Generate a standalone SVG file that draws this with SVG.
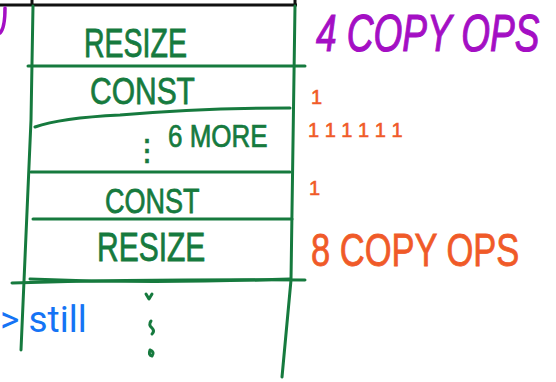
<svg xmlns="http://www.w3.org/2000/svg" width="556" height="382" viewBox="0 0 556 382">
<style>
.g{fill:none;stroke:#167a3e;stroke-width:3;stroke-linecap:round;stroke-linejoin:round}
.k{fill:none;stroke:#111;stroke-width:3}
.p{fill:none;stroke:#a40fc4;stroke-width:3.5;stroke-linecap:round}
.hg{font-family:"Liberation Sans",Arial,sans-serif;fill:#167a3e;stroke:#167a3e;stroke-width:0.6}
.hp{font-family:"Liberation Sans",Arial,sans-serif;fill:#a40fc4;stroke:#a40fc4;stroke-width:0.8;font-style:italic}
.ho{font-family:"Liberation Sans",Arial,sans-serif;fill:#f05a28;stroke:#f05a28;stroke-width:0.6}
</style>
<rect width="556" height="382" fill="#fff"/>
<g id="frame">
<path class="k" d="M0 5 H297 M32 0 V5 M295 0 V5"/>
<path class="p" d="M5 8 Q5 28 0 33"/>
</g>
<g id="connectors">
<path class="g" d="M33 6 L31 120 L21 350"/>
<path class="g" d="M295 6 L291 280 L282 377"/>
<path class="g" d="M28 66 H305"/>
<path class="g" d="M35 127 Q60 118 120 115 Q200 108 290 108"/>
<path class="g" d="M31 172 H290"/>
<path class="g" d="M33 219 H292"/>
<path class="g" d="M12 283 Q150 279 305 280"/>
<path class="g" d="M30 279 Q150 284 290 279"/>
</g>
<g id="resize1"><text class="hg" transform="translate(84,57) scale(1,1.4)" font-size="28.5">RESIZE</text></g>
<g id="const1"><text class="hg" transform="translate(90,104) scale(1,1.25)" font-size="30">CONST</text></g>
<g id="more"><text class="hg" x="132" y="160" font-size="30">⋮</text><text class="hg" transform="translate(168,147) scale(1,1.2)" font-size="26">6 MORE</text></g>
<g id="const2"><text class="hg" transform="translate(105,213) scale(1,1.3)" font-size="27">CONST</text></g>
<g id="resize2"><text class="hg" transform="translate(97,261) scale(1,1.35)" font-size="30">RESIZE</text></g>
<g id="dots">
<path class="g" d="M146 294 L149 299 L152 294 M151 321 Q148 325 152 328 Q155 331 152 334 M150 350 Q148 355 152 356 Q155 352 150 350"/>
</g>
<g id="note4"><text class="hp" transform="translate(316,51) scale(1,1.4)" font-size="37">4 COPY OPS</text></g>
<g id="tally1"><text class="ho" x="311" y="104" font-size="20">1</text></g>
<g id="tally6"><text class="ho" x="308" y="137" font-size="20">1 1 1 1 1 1</text></g>
<g id="tally2"><text class="ho" x="309" y="195" font-size="20">1</text></g>
<g id="note8"><text class="ho" transform="translate(311,266) scale(1,1.35)" font-size="34.5">8 COPY OPS</text></g>
<g id="still"><text x="0" y="332" font-family="Roboto,'Liberation Sans',sans-serif" font-size="37" fill="#1574f5">&gt; still</text></g>
</svg>
